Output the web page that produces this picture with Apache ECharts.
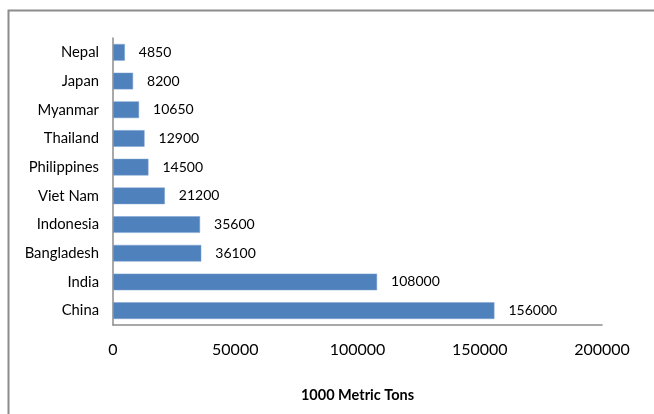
<!DOCTYPE html>
<html><head><meta charset="utf-8">
<script src="https://cdn.jsdelivr.net/npm/echarts@6/dist/echarts.min.js"></script>
<style>html,body{margin:0;padding:0;background:#fff}#c{width:654px;height:414px}</style>
</head><body><div id="c"></div>
<script>
const categories = ["China","India","Bangladesh","Indonesia","Viet Nam","Philippines","Thailand","Myanmar","Japan","Nepal"];
const values = [156000,108000,36100,35600,21200,14500,12900,10650,8200,4850];
const xTicks = [0,50000,100000,150000,200000];
const FONT = "Lato";
const chart = echarts.init(document.getElementById('c'));
chart.setOption({
  animation:false,
  backgroundColor:'#fff',
  graphic:[{type:'rect',left:6,top:8,shape:{width:700,height:450},style:{fill:'none',stroke:'#8c8c8c',lineWidth:2},silent:true}],
  grid:{left:113,right:52,top:38,bottom:89,containLabel:false},
  xAxis:{type:'value',min:xTicks[0],max:xTicks[xTicks.length-1],interval:50000,
    axisLine:{show:true,lineStyle:{color:'#8c8c8c',width:1.5}},axisTick:{show:false},splitLine:{show:false},
    axisLabel:{fontFamily:FONT,fontSize:16,color:'#000',margin:17,formatter:v=>String(v)},
    name:'1000 Metric Tons',nameLocation:'middle',nameGap:63,
    nameTextStyle:{fontFamily:FONT,fontSize:14.5,fontWeight:'bold',color:'#000'}},
  yAxis:{type:'category',data:categories,
    axisLine:{show:true,lineStyle:{color:'#8c8c8c',width:1.5}},axisTick:{show:false},
    axisLabel:{fontFamily:FONT,fontSize:14.8,color:'#000',margin:14}},
  series:[{type:'bar',data:values,barWidth:'58%',
    itemStyle:{color:'#4F81BD',borderColor:'#7ea3d3',borderWidth:0.5},
    label:{show:true,position:'right',distance:14,fontFamily:FONT,fontSize:14,color:'#000'}}]
});
</script></body></html>
